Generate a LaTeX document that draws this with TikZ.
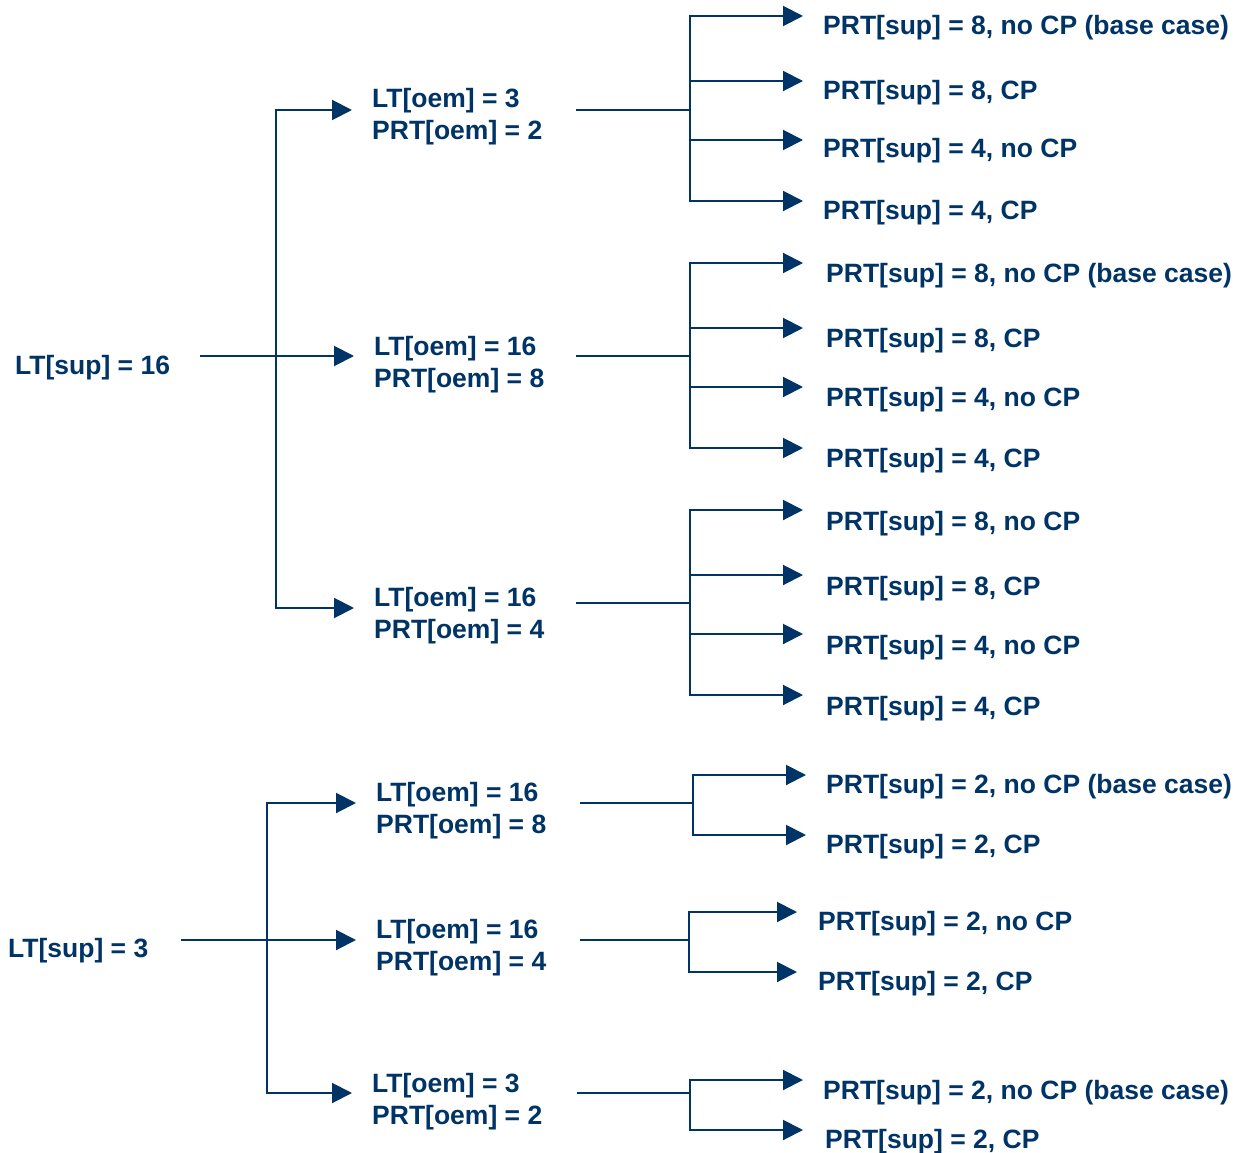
\documentclass[tikz,border=0pt]{standalone}
\usepackage{fontspec}
\setmainfont{Liberation Sans}
\usetikzlibrary{arrows.meta}
\definecolor{navy}{RGB}{0,51,102}
\begin{document}
\begin{tikzpicture}[x=1pt,y=-1pt,
  txt/.style={anchor=west,inner sep=0pt,align=left,text=navy,font=\fontsize{26.5}{32}\selectfont\bfseries},
  ln/.style={draw=navy,line width=2pt},
  arr/.style={draw=navy,line width=2pt,-{Triangle[length=20pt,width=20pt]}}]
\useasboundingbox (0,0) rectangle (1234,1153);

% ---------- Tree A ----------
\node[txt] (rA) at (15,368) {LT[sup] = 16};
\node[txt] (mA1) at (372,117) {LT[oem] = 3\\PRT[oem] = 2};
\node[txt] (mA2) at (374,365) {LT[oem] = 16\\PRT[oem] = 8};
\node[txt] (mA3) at (374,616) {LT[oem] = 16\\PRT[oem] = 4};

\node[txt] (lA11) at (823,28) {PRT[sup] = 8, no CP (base case)};
\node[txt] (lA12) at (823,93) {PRT[sup] = 8, CP};
\node[txt] (lA13) at (823,151) {PRT[sup] = 4, no CP};
\node[txt] (lA14) at (823,213) {PRT[sup] = 4, CP};

\node[txt] (lA21) at (826,276) {PRT[sup] = 8, no CP (base case)};
\node[txt] (lA22) at (826,341) {PRT[sup] = 8, CP};
\node[txt] (lA23) at (826,400) {PRT[sup] = 4, no CP};
\node[txt] (lA24) at (826,461) {PRT[sup] = 4, CP};

\node[txt] (lA31) at (826,524) {PRT[sup] = 8, no CP};
\node[txt] (lA32) at (826,589) {PRT[sup] = 8, CP};
\node[txt] (lA33) at (826,648) {PRT[sup] = 4, no CP};
\node[txt] (lA34) at (826,709) {PRT[sup] = 4, CP};

\coordinate (jA) at (276,356);
\coordinate (kA1) at (690,110);
\coordinate (kA2) at (690,356);
\coordinate (kA3) at (690,603);

\draw[ln] ([xshift=30pt,yshift=12pt]rA.east) -- (jA);
\draw[arr] (jA) |- ([xshift=-20pt,yshift=7pt]mA1.west);
\draw[arr] (jA) -- ([xshift=-20pt,yshift=9pt]mA2.west);
\draw[arr] (jA) |- ([xshift=-20pt,yshift=8pt]mA3.west);

\draw[ln] ([xshift=34pt,yshift=7pt]mA1.east) -- (kA1);
\draw[ln] ([xshift=32pt,yshift=9pt]mA2.east) -- (kA2);
\draw[ln] ([xshift=32pt,yshift=13pt]mA3.east) -- (kA3);

\draw[arr] (kA1) |- ([xshift=-20pt,yshift=12pt]lA11.west);
\draw[arr] (kA1) |- ([xshift=-20pt,yshift=12pt]lA12.west);
\draw[arr] (kA1) |- ([xshift=-20pt,yshift=11pt]lA13.west);
\draw[arr] (kA1) |- ([xshift=-20pt,yshift=12pt]lA14.west);

\draw[arr] (kA2) |- ([xshift=-23pt,yshift=13pt]lA21.west);
\draw[arr] (kA2) |- ([xshift=-23pt,yshift=13pt]lA22.west);
\draw[arr] (kA2) |- ([xshift=-23pt,yshift=13pt]lA23.west);
\draw[arr] (kA2) |- ([xshift=-23pt,yshift=13pt]lA24.west);

\draw[arr] (kA3) |- ([xshift=-23pt,yshift=14pt]lA31.west);
\draw[arr] (kA3) |- ([xshift=-23pt,yshift=14pt]lA32.west);
\draw[arr] (kA3) |- ([xshift=-23pt,yshift=14pt]lA33.west);
\draw[arr] (kA3) |- ([xshift=-23pt,yshift=14pt]lA34.west);

% ---------- Tree B ----------
\node[txt] (rB) at (8,951) {LT[sup] = 3};
\node[txt] (mB1) at (376,811) {LT[oem] = 16\\PRT[oem] = 8};
\node[txt] (mB2) at (376,948) {LT[oem] = 16\\PRT[oem] = 4};
\node[txt] (mB3) at (372,1102) {LT[oem] = 3\\PRT[oem] = 2};

\node[txt] (lB11) at (826,787) {PRT[sup] = 2, no CP (base case)};
\node[txt] (lB12) at (826,847) {PRT[sup] = 2, CP};
\node[txt] (lB21) at (818,924) {PRT[sup] = 2, no CP};
\node[txt] (lB22) at (818,984) {PRT[sup] = 2, CP};
\node[txt] (lB31) at (823,1093) {PRT[sup] = 2, no CP (base case)};
\node[txt] (lB32) at (825,1142) {PRT[sup] = 2, CP};

\coordinate (jB) at (267,940);
\coordinate (kB1) at (693,803);
\coordinate (kB2) at (689,940);
\coordinate (kB3) at (690,1093);

\draw[ln] ([xshift=32pt,yshift=11pt]rB.east) -- (jB);
\draw[arr] (jB) |- ([xshift=-20pt,yshift=8pt]mB1.west);
\draw[arr] (jB) -- ([xshift=-20pt,yshift=8pt]mB2.west);
\draw[arr] (jB) |- ([xshift=-20pt,yshift=9pt]mB3.west);

\draw[ln] ([xshift=34pt,yshift=8pt]mB1.east) -- (kB1);
\draw[ln] ([xshift=34pt,yshift=8pt]mB2.east) -- (kB2);
\draw[ln] ([xshift=35pt,yshift=9pt]mB3.east) -- (kB3);

\draw[arr] (kB1) |- ([xshift=-20pt,yshift=12pt]lB11.west);
\draw[arr] (kB1) |- ([xshift=-20pt,yshift=12pt]lB12.west);
\draw[arr] (kB2) |- ([xshift=-21pt,yshift=12pt]lB21.west);
\draw[arr] (kB2) |- ([xshift=-21pt,yshift=12pt]lB22.west);
\draw[arr] (kB3) |- ([xshift=-20pt,yshift=13pt]lB31.west);
\draw[arr] (kB3) |- ([xshift=-22pt,yshift=12pt]lB32.west);
\end{tikzpicture}
\end{document}
